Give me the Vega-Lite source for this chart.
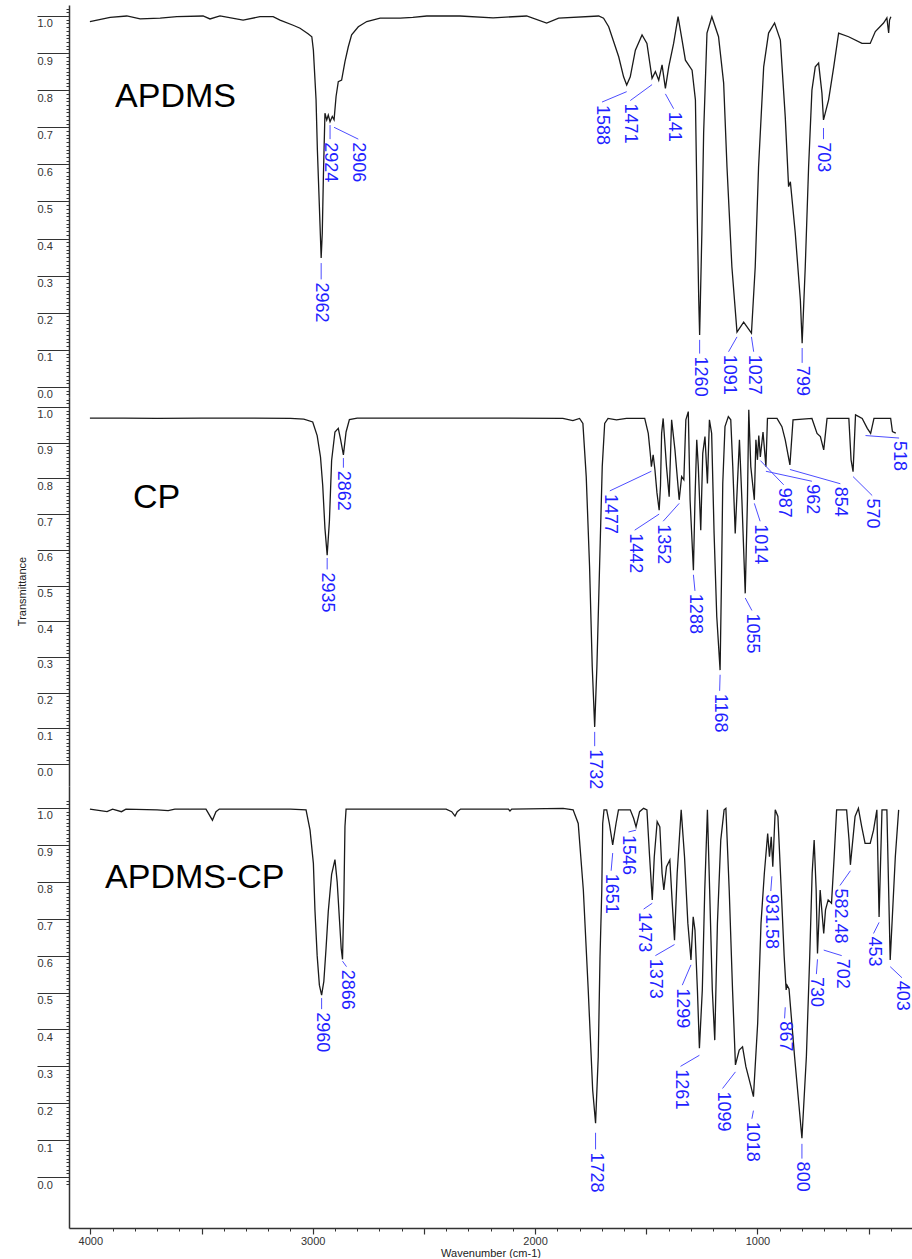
{
  "$schema": "https://vega.github.io/schema/vega-lite/v6.json",
  "background": "white",
  "padding": {"left": 16, "top": 5, "right": 0, "bottom": 0},
  "spacing": 0,
  "bounds": "flush",
  "config": {
    "view": {"stroke": null},
    "axis": {"labelFont": "Liberation Sans", "labelFontSize": 11, "labelColor": "#333", "titleFont": "Liberation Sans", "titleFontSize": 11, "titleFontWeight": "normal", "titleColor": "#222", "domainColor": "#333", "tickColor": "#333", "grid": false}
  },
  "datasets": {
    "apdms": [
      {"w":4002,"t":0.985},{"w":3911,"t":0.996},{"w":3836,"t":1.0},{"w":3776,"t":0.992},{"w":3686,"t":0.994},{"w":3611,"t":0.998},{"w":3493,"t":1.0},{"w":3462,"t":0.992},{"w":3417,"t":1.0},{"w":3313,"t":0.989},{"w":3237,"t":0.998},{"w":3178,"t":0.998},{"w":3147,"t":0.989},{"w":3088,"t":0.975},{"w":3057,"t":0.967},{"w":3021,"t":0.952},{"w":3004,"t":0.944},{"w":2997,"t":0.908},{"w":2985,"t":0.774},{"w":2979,"t":0.639},{"w":2970,"t":0.486},{"w":2962,"t":0.348},{"w":2957,"t":0.415},{"w":2952,"t":0.567},{"w":2945,"t":0.738},{"w":2937,"t":0.72},{"w":2930,"t":0.733},{"w":2922,"t":0.715},{"w":2912,"t":0.729},{"w":2904,"t":0.72},{"w":2895,"t":0.783},{"w":2885,"t":0.823},{"w":2870,"t":0.827},{"w":2855,"t":0.877},{"w":2840,"t":0.917},{"w":2825,"t":0.949},{"w":2795,"t":0.971},{"w":2757,"t":0.985},{"w":2697,"t":0.994},{"w":2607,"t":0.994},{"w":2550,"t":0.996},{"w":2487,"t":1.0},{"w":2338,"t":1.0},{"w":2189,"t":0.995},{"w":2038,"t":1.0},{"w":1948,"t":0.981},{"w":1894,"t":0.994},{"w":1714,"t":1.0},{"w":1692,"t":0.994},{"w":1669,"t":0.971},{"w":1624,"t":0.89},{"w":1602,"t":0.836},{"w":1588,"t":0.814},{"w":1572,"t":0.836},{"w":1549,"t":0.908},{"w":1519,"t":0.949},{"w":1497,"t":0.926},{"w":1474,"t":0.832},{"w":1459,"t":0.85},{"w":1444,"t":0.827},{"w":1429,"t":0.868},{"w":1414,"t":0.805},{"w":1399,"t":0.863},{"w":1377,"t":0.926},{"w":1357,"t":0.998},{"w":1339,"t":0.935},{"w":1324,"t":0.881},{"w":1294,"t":0.854},{"w":1279,"t":0.774},{"w":1272,"t":0.504},{"w":1264,"t":0.234},{"w":1260,"t":0.14},{"w":1250,"t":0.415},{"w":1242,"t":0.685},{"w":1227,"t":0.954},{"w":1205,"t":0.998},{"w":1175,"t":0.944},{"w":1152,"t":0.819},{"w":1137,"t":0.593},{"w":1115,"t":0.324},{"w":1092,"t":0.148},{"w":1062,"t":0.175},{"w":1027,"t":0.145},{"w":1010,"t":0.324},{"w":995,"t":0.593},{"w":972,"t":0.863},{"w":950,"t":0.954},{"w":923,"t":0.981},{"w":897,"t":0.935},{"w":875,"t":0.728},{"w":860,"t":0.54},{"w":852,"t":0.553},{"w":830,"t":0.415},{"w":807,"t":0.234},{"w":799,"t":0.118},{"w":785,"t":0.324},{"w":770,"t":0.593},{"w":755,"t":0.8},{"w":740,"t":0.863},{"w":725,"t":0.873},{"w":710,"t":0.792},{"w":703,"t":0.72},{"w":680,"t":0.774},{"w":657,"t":0.863},{"w":635,"t":0.954},{"w":590,"t":0.944},{"w":530,"t":0.926},{"w":493,"t":0.926},{"w":470,"t":0.958},{"w":433,"t":0.981},{"w":418,"t":0.995},{"w":410,"t":0.954},{"w":406,"t":0.989},{"w":400,"t":0.998}
    ],
    "cp": [
      {"w":4002,"t":0.969},{"w":3850,"t":0.969},{"w":3700,"t":0.968},{"w":3500,"t":0.969},{"w":3300,"t":0.969},{"w":3100,"t":0.968},{"w":3040,"t":0.966},{"w":3000,"t":0.958},{"w":2980,"t":0.92},{"w":2965,"t":0.86},{"w":2955,"t":0.78},{"w":2945,"t":0.66},{"w":2935,"t":0.585},{"w":2925,"t":0.68},{"w":2915,"t":0.85},{"w":2900,"t":0.93},{"w":2885,"t":0.94},{"w":2875,"t":0.91},{"w":2862,"t":0.866},{"w":2850,"t":0.93},{"w":2835,"t":0.965},{"w":2800,"t":0.969},{"w":2500,"t":0.969},{"w":2200,"t":0.969},{"w":1875,"t":0.968},{"w":1830,"t":0.962},{"w":1800,"t":0.968},{"w":1785,"t":0.954},{"w":1770,"t":0.805},{"w":1755,"t":0.553},{"w":1743,"t":0.273},{"w":1732,"t":0.104},{"w":1722,"t":0.273},{"w":1710,"t":0.553},{"w":1698,"t":0.833},{"w":1687,"t":0.954},{"w":1672,"t":0.968},{"w":1634,"t":0.964},{"w":1589,"t":0.968},{"w":1507,"t":0.968},{"w":1491,"t":0.926},{"w":1482,"t":0.87},{"w":1477,"t":0.833},{"w":1469,"t":0.866},{"w":1461,"t":0.824},{"w":1452,"t":0.76},{"w":1442,"t":0.711},{"w":1436,"t":0.78},{"w":1431,"t":0.926},{"w":1424,"t":0.968},{"w":1409,"t":0.833},{"w":1397,"t":0.749},{"w":1386,"t":0.964},{"w":1371,"t":0.88},{"w":1352,"t":0.74},{"w":1341,"t":0.805},{"w":1331,"t":0.796},{"w":1322,"t":0.964},{"w":1311,"t":0.987},{"w":1303,"t":0.74},{"w":1288,"t":0.543},{"w":1281,"t":0.74},{"w":1273,"t":0.908},{"w":1266,"t":0.833},{"w":1255,"t":0.655},{"w":1246,"t":0.87},{"w":1236,"t":0.917},{"w":1225,"t":0.786},{"w":1216,"t":0.964},{"w":1206,"t":0.926},{"w":1195,"t":0.646},{"w":1183,"t":0.413},{"w":1168,"t":0.263},{"w":1162,"t":0.506},{"w":1156,"t":0.786},{"w":1146,"t":0.945},{"w":1131,"t":0.973},{"w":1120,"t":0.964},{"w":1111,"t":0.833},{"w":1100,"t":0.646},{"w":1090,"t":0.786},{"w":1081,"t":0.908},{"w":1070,"t":0.74},{"w":1055,"t":0.478},{"w":1045,"t":0.74},{"w":1039,"t":0.992},{"w":1030,"t":0.833},{"w":1014,"t":0.74},{"w":1007,"t":0.908},{"w":1000,"t":0.852},{"w":994,"t":0.92},{"w":987,"t":0.86},{"w":975,"t":0.93},{"w":962,"t":0.833},{"w":955,"t":0.968},{"w":912,"t":0.968},{"w":890,"t":0.945},{"w":875,"t":0.908},{"w":854,"t":0.838},{"w":840,"t":0.964},{"w":755,"t":0.968},{"w":732,"t":0.926},{"w":717,"t":0.917},{"w":702,"t":0.88},{"w":687,"t":0.968},{"w":589,"t":0.968},{"w":579,"t":0.852},{"w":570,"t":0.819},{"w":559,"t":0.978},{"w":529,"t":0.968},{"w":506,"t":0.94},{"w":491,"t":0.926},{"w":476,"t":0.968},{"w":401,"t":0.968},{"w":393,"t":0.931},{"w":378,"t":0.927}
    ],
    "apdmscp": [
      {"w":4002,"t":0.997},{"w":3925,"t":0.99},{"w":3900,"t":0.997},{"w":3860,"t":0.99},{"w":3840,"t":0.997},{"w":3700,"t":0.995},{"w":3650,"t":0.993},{"w":3620,"t":0.997},{"w":3480,"t":0.997},{"w":3451,"t":0.967},{"w":3435,"t":0.99},{"w":3420,"t":0.997},{"w":3100,"t":0.997},{"w":3030,"t":0.995},{"w":3012,"t":0.94},{"w":2997,"t":0.85},{"w":2990,"t":0.724},{"w":2980,"t":0.6},{"w":2970,"t":0.52},{"w":2960,"t":0.493},{"w":2950,"t":0.53},{"w":2940,"t":0.62},{"w":2930,"t":0.72},{"w":2915,"t":0.82},{"w":2900,"t":0.86},{"w":2890,"t":0.8},{"w":2880,"t":0.7},{"w":2872,"t":0.62},{"w":2866,"t":0.59},{"w":2860,"t":0.75},{"w":2855,"t":0.95},{"w":2850,"t":0.997},{"w":2400,"t":0.997},{"w":2375,"t":0.99},{"w":2360,"t":0.978},{"w":2350,"t":0.99},{"w":2335,"t":0.997},{"w":2120,"t":0.997},{"w":2113,"t":0.992},{"w":2105,"t":0.997},{"w":1874,"t":0.999},{"w":1829,"t":0.995},{"w":1806,"t":0.958},{"w":1783,"t":0.778},{"w":1761,"t":0.507},{"w":1741,"t":0.236},{"w":1728,"t":0.146},{"w":1716,"t":0.326},{"w":1708,"t":0.597},{"w":1700,"t":0.778},{"w":1696,"t":0.958},{"w":1690,"t":0.995},{"w":1678,"t":0.995},{"w":1666,"t":0.958},{"w":1651,"t":0.9},{"w":1636,"t":0.958},{"w":1625,"t":0.995},{"w":1572,"t":0.995},{"w":1557,"t":0.972},{"w":1546,"t":0.949},{"w":1530,"t":0.99},{"w":1512,"t":0.999},{"w":1497,"t":0.995},{"w":1485,"t":0.868},{"w":1473,"t":0.751},{"w":1464,"t":0.868},{"w":1451,"t":0.963},{"w":1439,"t":0.949},{"w":1429,"t":0.823},{"w":1421,"t":0.778},{"w":1409,"t":0.841},{"w":1394,"t":0.859},{"w":1384,"t":0.751},{"w":1373,"t":0.642},{"w":1361,"t":0.823},{"w":1343,"t":0.995},{"w":1328,"t":0.868},{"w":1313,"t":0.688},{"w":1299,"t":0.588},{"w":1289,"t":0.705},{"w":1281,"t":0.669},{"w":1270,"t":0.507},{"w":1261,"t":0.349},{"w":1248,"t":0.507},{"w":1237,"t":0.778},{"w":1225,"t":0.995},{"w":1215,"t":0.778},{"w":1203,"t":0.507},{"w":1192,"t":0.371},{"w":1180,"t":0.688},{"w":1165,"t":0.913},{"w":1150,"t":0.995},{"w":1142,"t":0.999},{"w":1127,"t":0.778},{"w":1112,"t":0.507},{"w":1099,"t":0.304},{"w":1082,"t":0.344},{"w":1067,"t":0.353},{"w":1052,"t":0.299},{"w":1029,"t":0.245},{"w":1018,"t":0.218},{"w":999,"t":0.417},{"w":984,"t":0.688},{"w":969,"t":0.823},{"w":954,"t":0.931},{"w":946,"t":0.868},{"w":938,"t":0.922},{"w":931,"t":0.841},{"w":920,"t":0.995},{"w":908,"t":0.977},{"w":893,"t":0.778},{"w":880,"t":0.6},{"w":871,"t":0.507},{"w":867,"t":0.52},{"w":858,"t":0.51},{"w":833,"t":0.326},{"w":800,"t":0.105},{"w":780,"t":0.326},{"w":765,"t":0.597},{"w":754,"t":0.823},{"w":745,"t":0.913},{"w":736,"t":0.778},{"w":730,"t":0.606},{"w":718,"t":0.778},{"w":702,"t":0.66},{"w":694,"t":0.724},{"w":682,"t":0.751},{"w":667,"t":0.742},{"w":655,"t":0.868},{"w":644,"t":0.995},{"w":599,"t":0.995},{"w":588,"t":0.913},{"w":582,"t":0.846},{"w":561,"t":0.977},{"w":546,"t":0.999},{"w":531,"t":0.949},{"w":516,"t":0.904},{"w":493,"t":0.904},{"w":478,"t":0.94},{"w":463,"t":0.995},{"w":453,"t":0.705},{"w":440,"t":0.995},{"w":418,"t":0.995},{"w":403,"t":0.588},{"w":380,"t":0.868},{"w":365,"t":0.995}
    ],
    "labels": [
      {"panel":1,"label":"2962","w":2962,"t":0.334,"wl":2962,"tl":0.29},
      {"panel":1,"label":"2924","w":2922,"t":0.706,"wl":2922,"tl":0.668},
      {"panel":1,"label":"2906","w":2904,"t":0.70,"wl":2795,"tl":0.668},
      {"panel":1,"label":"1588","w":1588,"t":0.796,"wl":1699,"tl":0.768},
      {"panel":1,"label":"1471","w":1474,"t":0.815,"wl":1572,"tl":0.772},
      {"panel":1,"label":"141","w":1414,"t":0.79,"wl":1377,"tl":0.75},
      {"panel":1,"label":"1260","w":1260,"t":0.127,"wl":1260,"tl":0.09},
      {"panel":1,"label":"1091","w":1092,"t":0.135,"wl":1130,"tl":0.095},
      {"panel":1,"label":"1027","w":1027,"t":0.135,"wl":1017,"tl":0.095},
      {"panel":1,"label":"799","w":799,"t":0.105,"wl":799,"tl":0.065},
      {"panel":1,"label":"703","w":703,"t":0.698,"wl":703,"tl":0.668},
      {"panel":2,"label":"2935","w":2935,"t":0.577,"wl":2935,"tl":0.545},
      {"panel":2,"label":"2862","w":2862,"t":0.857,"wl":2862,"tl":0.83},
      {"panel":2,"label":"1732","w":1732,"t":0.09,"wl":1732,"tl":0.05},
      {"panel":2,"label":"1477","w":1477,"t":0.82,"wl":1664,"tl":0.765},
      {"panel":2,"label":"1442","w":1442,"t":0.70,"wl":1552,"tl":0.655},
      {"panel":2,"label":"1352","w":1352,"t":0.73,"wl":1424,"tl":0.68},
      {"panel":2,"label":"1288","w":1288,"t":0.53,"wl":1281,"tl":0.485},
      {"panel":2,"label":"1168","w":1168,"t":0.25,"wl":1170,"tl":0.205},
      {"panel":2,"label":"1055","w":1055,"t":0.465,"wl":1025,"tl":0.43},
      {"panel":2,"label":"1014","w":1014,"t":0.73,"wl":988,"tl":0.68},
      {"panel":2,"label":"987","w":987,"t":0.85,"wl":882,"tl":0.782},
      {"panel":2,"label":"962","w":962,"t":0.82,"wl":755,"tl":0.792},
      {"panel":2,"label":"854","w":854,"t":0.825,"wl":627,"tl":0.785},
      {"panel":2,"label":"570","w":570,"t":0.805,"wl":484,"tl":0.752},
      {"panel":2,"label":"518","w":514,"t":0.92,"wl":363,"tl":0.913},
      {"panel":3,"label":"2960","w":2960,"t":0.485,"wl":2960,"tl":0.455},
      {"panel":3,"label":"2866","w":2866,"t":0.585,"wl":2848,"tl":0.57},
      {"panel":3,"label":"1728","w":1728,"t":0.12,"wl":1728,"tl":0.075},
      {"panel":3,"label":"1651","w":1651,"t":0.878,"wl":1658,"tl":0.83},
      {"panel":3,"label":"1546","w":1546,"t":0.94,"wl":1580,"tl":0.935},
      {"panel":3,"label":"1473","w":1473,"t":0.742,"wl":1512,"tl":0.726},
      {"panel":3,"label":"1373","w":1373,"t":0.63,"wl":1459,"tl":0.60},
      {"panel":3,"label":"1299","w":1299,"t":0.575,"wl":1338,"tl":0.52},
      {"panel":3,"label":"1261","w":1261,"t":0.33,"wl":1346,"tl":0.30},
      {"panel":3,"label":"1099","w":1099,"t":0.285,"wl":1157,"tl":0.24},
      {"panel":3,"label":"1018","w":1018,"t":0.18,"wl":1025,"tl":0.158},
      {"panel":3,"label":"931.58","w":935,"t":0.815,"wl":940,"tl":0.775},
      {"panel":3,"label":"867","w":875,"t":0.46,"wl":878,"tl":0.43},
      {"panel":3,"label":"800","w":800,"t":0.09,"wl":800,"tl":0.05},
      {"panel":3,"label":"730","w":730,"t":0.59,"wl":735,"tl":0.55},
      {"panel":3,"label":"582.48","w":582,"t":0.83,"wl":629,"tl":0.79},
      {"panel":3,"label":"702","w":702,"t":0.615,"wl":621,"tl":0.60},
      {"panel":3,"label":"453","w":453,"t":0.69,"wl":478,"tl":0.66},
      {"panel":3,"label":"403","w":403,"t":0.57,"wl":350,"tl":0.54}
    ],
    "names": [
      {"panel":1,"name":"APDMS","w":3889,"t":0.755},
      {"panel":2,"name":"CP","w":3808,"t":0.717},
      {"panel":3,"name":"APDMS-CP","w":3934,"t":0.783}
    ]
  },
  "vconcat": [
    {
      "width": 843, "height": 392,
      "resolve": {"axis": {"y": "independent"}},
      "layer": [
        {
          "data": {"name": "apdms"},
          "mark": {"type": "line", "color": "#1a1a1a", "strokeWidth": 1.3},
          "encoding": {
            "x": {"field": "w", "type": "quantitative", "scale": {"domain": [4096, 305], "nice": false, "zero": false}, "axis": null},
            "y": {"field": "t", "type": "quantitative", "scale": {"domain": [-0.027, 1.0296], "nice": false, "zero": false},
              "axis": {"orient": "left", "title": null, "values": [0,0.1,0.2,0.3,0.4,0.5,0.6,0.7,0.8,0.9,1], "format": ".1f", "tickSize": 32, "tickWidth": 1.2, "domainWidth": 1.5, "labelAlign": "left", "labelBaseline": "top", "labelPadding": 0, "labelOffset": 2, "labelOverlap": false, "labelFlush": false, "labelBound": false}}
          }
        },
        {
          "data": {"name": "labels"},
          "transform": [{"filter": "datum.panel == 1"}],
          "mark": {"type": "rule", "color": "#4d4dff", "strokeWidth": 1},
          "encoding": {
            "x": {"field": "w", "type": "quantitative", "scale": {"domain": [4096, 305], "nice": false, "zero": false}, "axis": null},
            "y": {"field": "t", "type": "quantitative", "scale": {"domain": [-0.027, 1.0296], "nice": false, "zero": false}, "axis": null},
            "x2": {"field": "wl"}, "y2": {"field": "tl"}
          }
        },
        {
          "data": {"name": "labels"},
          "transform": [{"filter": "datum.panel == 1"}],
          "mark": {"type": "text", "angle": 90, "align": "left", "baseline": "middle", "dx": 3, "font": "Liberation Sans", "fontSize": 18, "color": "#1f1fff"},
          "encoding": {
            "x": {"field": "wl", "type": "quantitative", "scale": {"domain": [4096, 305], "nice": false, "zero": false}, "axis": null},
            "y": {"field": "tl", "type": "quantitative", "scale": {"domain": [-0.027, 1.0296], "nice": false, "zero": false}, "axis": null},
            "text": {"field": "label"}
          }
        },
        {
          "data": {"name": "names"},
          "transform": [{"filter": "datum.panel == 1"}],
          "mark": {"type": "text", "align": "left", "baseline": "alphabetic", "font": "Liberation Sans", "fontSize": 34, "color": "#000"},
          "encoding": {
            "x": {"field": "w", "type": "quantitative", "scale": {"domain": [4096, 305], "nice": false, "zero": false}, "axis": null},
            "y": {"field": "t", "type": "quantitative", "scale": {"domain": [-0.027, 1.0296], "nice": false, "zero": false},
              "axis": {"orient": "left", "title": null, "values": [-0.02,-0.01,0,0.01,0.02,0.03,0.04,0.05,0.06,0.07,0.08,0.09,0.1,0.11,0.12,0.13,0.14,0.15,0.16,0.17,0.18,0.19,0.2,0.21,0.22,0.23,0.24,0.25,0.26,0.27,0.28,0.29,0.3,0.31,0.32,0.33,0.34,0.35,0.36,0.37,0.38,0.39,0.4,0.41,0.42,0.43,0.44,0.45,0.46,0.47,0.48,0.49,0.5,0.51,0.52,0.53,0.54,0.55,0.56,0.57,0.58,0.59,0.6,0.61,0.62,0.63,0.64,0.65,0.66,0.67,0.68,0.69,0.7,0.71,0.72,0.73,0.74,0.75,0.76,0.77,0.78,0.79,0.8,0.81,0.82,0.83,0.84,0.85,0.86,0.87,0.88,0.89,0.9,0.91,0.92,0.93,0.94,0.95,0.96,0.97,0.98,0.99,1,1.01,1.02], "tickSize": 3, "tickWidth": 1, "labels": false, "domain": false}},
            "text": {"field": "name"}
          }
        }
      ]
    },
    {
      "width": 843, "height": 389,
      "resolve": {"axis": {"y": "independent"}},
      "layer": [
        {
          "data": {"name": "cp"},
          "mark": {"type": "line", "color": "#1a1a1a", "strokeWidth": 1.3},
          "encoding": {
            "x": {"field": "w", "type": "quantitative", "scale": {"domain": [4096, 305], "nice": false, "zero": false}, "axis": null},
            "y": {"field": "t", "type": "quantitative", "scale": {"domain": [-0.0616, 1.028], "nice": false, "zero": false},
              "axis": {"orient": "left", "title": "Transmittance", "titleX": -47, "titleY": 194, "titleAngle": -90, "titleBaseline": "middle", "titleAlign": "center", "values": [0,0.1,0.2,0.3,0.4,0.5,0.6,0.7,0.8,0.9,1], "format": ".1f", "tickSize": 32, "tickWidth": 1.2, "domainWidth": 1.5, "labelAlign": "left", "labelBaseline": "top", "labelPadding": 0, "labelOffset": 2, "labelOverlap": false, "labelFlush": false, "labelBound": false}}
          }
        },
        {
          "data": {"name": "labels"},
          "transform": [{"filter": "datum.panel == 2"}],
          "mark": {"type": "rule", "color": "#4d4dff", "strokeWidth": 1},
          "encoding": {
            "x": {"field": "w", "type": "quantitative", "scale": {"domain": [4096, 305], "nice": false, "zero": false}, "axis": null},
            "y": {"field": "t", "type": "quantitative", "scale": {"domain": [-0.0616, 1.028], "nice": false, "zero": false}, "axis": null},
            "x2": {"field": "wl"}, "y2": {"field": "tl"}
          }
        },
        {
          "data": {"name": "labels"},
          "transform": [{"filter": "datum.panel == 2"}],
          "mark": {"type": "text", "angle": 90, "align": "left", "baseline": "middle", "dx": 3, "font": "Liberation Sans", "fontSize": 18, "color": "#1f1fff"},
          "encoding": {
            "x": {"field": "wl", "type": "quantitative", "scale": {"domain": [4096, 305], "nice": false, "zero": false}, "axis": null},
            "y": {"field": "tl", "type": "quantitative", "scale": {"domain": [-0.0616, 1.028], "nice": false, "zero": false}, "axis": null},
            "text": {"field": "label"}
          }
        },
        {
          "data": {"name": "names"},
          "transform": [{"filter": "datum.panel == 2"}],
          "mark": {"type": "text", "align": "left", "baseline": "alphabetic", "font": "Liberation Sans", "fontSize": 34, "color": "#000"},
          "encoding": {
            "x": {"field": "w", "type": "quantitative", "scale": {"domain": [4096, 305], "nice": false, "zero": false}, "axis": null},
            "y": {"field": "t", "type": "quantitative", "scale": {"domain": [-0.0616, 1.028], "nice": false, "zero": false},
              "axis": {"orient": "left", "title": null, "values": [0,0.01,0.02,0.03,0.04,0.05,0.06,0.07,0.08,0.09,0.1,0.11,0.12,0.13,0.14,0.15,0.16,0.17,0.18,0.19,0.2,0.21,0.22,0.23,0.24,0.25,0.26,0.27,0.28,0.29,0.3,0.31,0.32,0.33,0.34,0.35,0.36,0.37,0.38,0.39,0.4,0.41,0.42,0.43,0.44,0.45,0.46,0.47,0.48,0.49,0.5,0.51,0.52,0.53,0.54,0.55,0.56,0.57,0.58,0.59,0.6,0.61,0.62,0.63,0.64,0.65,0.66,0.67,0.68,0.69,0.7,0.71,0.72,0.73,0.74,0.75,0.76,0.77,0.78,0.79,0.8,0.81,0.82,0.83,0.84,0.85,0.86,0.87,0.88,0.89,0.9,0.91,0.92,0.93,0.94,0.95,0.96,0.97,0.98,0.99,1,1.01,1.02], "tickSize": 3, "tickWidth": 1, "labels": false, "domain": false}},
            "text": {"field": "name"}
          }
        }
      ]
    },
    {
      "width": 843, "height": 442,
      "resolve": {"axis": {"x": "independent", "y": "independent"}},
      "layer": [
        {
          "data": {"name": "apdmscp"},
          "mark": {"type": "line", "color": "#1a1a1a", "strokeWidth": 1.3},
          "encoding": {
            "x": {"field": "w", "type": "quantitative", "scale": {"domain": [4096, 305], "nice": false, "zero": false},
              "axis": {"orient": "bottom", "title": "Wavenumber (cm-1)", "values": [4000,3500,3000,2500,2000,1500,1000,500], "tickSize": 6, "tickWidth": 1.2, "domainWidth": 1.5, "labelExpr": "datum.value % 1000 == 0 ? format(datum.value, 'd') : ''", "labelPadding": 1, "titlePadding": 1, "labelOverlap": false, "labelFlush": false, "labelBound": false}},
            "y": {"field": "t", "type": "quantitative", "scale": {"domain": [-0.138, 1.0596], "nice": false, "zero": false},
              "axis": {"orient": "left", "title": null, "values": [0,0.1,0.2,0.3,0.4,0.5,0.6,0.7,0.8,0.9,1], "format": ".1f", "tickSize": 32, "tickWidth": 1.2, "domainWidth": 1.5, "labelAlign": "left", "labelBaseline": "top", "labelPadding": 0, "labelOffset": 2, "labelOverlap": false, "labelFlush": false, "labelBound": false}}
          }
        },
        {
          "data": {"name": "labels"},
          "transform": [{"filter": "datum.panel == 3"}],
          "mark": {"type": "rule", "color": "#4d4dff", "strokeWidth": 1},
          "encoding": {
            "x": {"field": "w", "type": "quantitative", "scale": {"domain": [4096, 305], "nice": false, "zero": false}, "axis": null},
            "y": {"field": "t", "type": "quantitative", "scale": {"domain": [-0.138, 1.0596], "nice": false, "zero": false}, "axis": null},
            "x2": {"field": "wl"}, "y2": {"field": "tl"}
          }
        },
        {
          "data": {"name": "labels"},
          "transform": [{"filter": "datum.panel == 3"}],
          "mark": {"type": "text", "angle": 90, "align": "left", "baseline": "middle", "dx": 3, "font": "Liberation Sans", "fontSize": 18, "color": "#1f1fff"},
          "encoding": {
            "x": {"field": "wl", "type": "quantitative", "scale": {"domain": [4096, 305], "nice": false, "zero": false}, "axis": null},
            "y": {"field": "tl", "type": "quantitative", "scale": {"domain": [-0.138, 1.0596], "nice": false, "zero": false}, "axis": null},
            "text": {"field": "label"}
          }
        },
        {
          "data": {"name": "names"},
          "transform": [{"filter": "datum.panel == 3"}],
          "mark": {"type": "text", "align": "left", "baseline": "alphabetic", "font": "Liberation Sans", "fontSize": 34, "color": "#000"},
          "encoding": {
            "x": {"field": "w", "type": "quantitative", "scale": {"domain": [4096, 305], "nice": false, "zero": false},
              "axis": {"orient": "bottom", "title": null, "values": [4000,3900,3800,3700,3600,3500,3400,3300,3200,3100,3000,2900,2800,2700,2600,2500,2400,2300,2200,2100,2000,1900,1800,1700,1600,1500,1400,1300,1200,1100,1000,900,800,700,600,500,400], "tickSize": 3, "tickWidth": 1, "labels": false, "domain": false}},
            "y": {"field": "t", "type": "quantitative", "scale": {"domain": [-0.138, 1.0596], "nice": false, "zero": false},
              "axis": {"orient": "left", "title": null, "values": [-0.02,-0.01,0,0.01,0.02,0.03,0.04,0.05,0.06,0.07,0.08,0.09,0.1,0.11,0.12,0.13,0.14,0.15,0.16,0.17,0.18,0.19,0.2,0.21,0.22,0.23,0.24,0.25,0.26,0.27,0.28,0.29,0.3,0.31,0.32,0.33,0.34,0.35,0.36,0.37,0.38,0.39,0.4,0.41,0.42,0.43,0.44,0.45,0.46,0.47,0.48,0.49,0.5,0.51,0.52,0.53,0.54,0.55,0.56,0.57,0.58,0.59,0.6,0.61,0.62,0.63,0.64,0.65,0.66,0.67,0.68,0.69,0.7,0.71,0.72,0.73,0.74,0.75,0.76,0.77,0.78,0.79,0.8,0.81,0.82,0.83,0.84,0.85,0.86,0.87,0.88,0.89,0.9,0.91,0.92,0.93,0.94,0.95,0.96,0.97,0.98,0.99,1,1.01,1.02], "tickSize": 3, "tickWidth": 1, "labels": false, "domain": false}},
            "text": {"field": "name"}
          }
        }
      ]
    }
  ]
}
